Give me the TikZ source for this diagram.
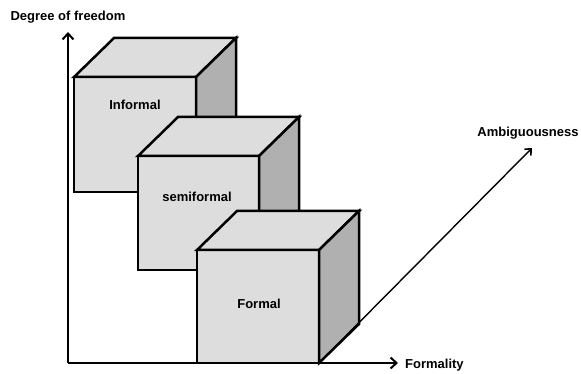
\documentclass[tikz,border=0pt]{standalone}
\usepackage{fontspec}
\setmainfont{Liberation Sans}
\usetikzlibrary{arrows.meta}
\definecolor{facelight}{HTML}{DDDDDD}
\definecolor{faceside}{HTML}{B0B0B0}
\tikzset{
  frontface/.style={draw=black, fill=facelight, line width=2.5pt, outer sep=0pt, inner sep=0pt},
  topface/.style={draw=black, fill=facelight, line width=2.5pt},
  sideface/.style={draw=black, fill=faceside, line width=2.5pt},
  lbl/.style={font=\fontsize{13}{15}\selectfont\bfseries, inner sep=0pt},
  axis/.style={line width=2.2pt, -{Straight Barb[length=6pt,width=11pt,line width=2pt]}},
  thinaxis/.style={line width=1.4pt, -{Straight Barb[length=5pt,width=9pt,line width=1.6pt]}}
}
\newcommand{\cubefaces}[1]{%
  \draw[topface] (#1.north west) -- ++(40,-39) -- ([shift={(40,-39)}]#1.north east) -- (#1.north east) -- cycle;
  \draw[sideface] (#1.north east) -- ++(40,-39) -- ([shift={(40,-39)}]#1.south east) -- (#1.south east) -- cycle;
}
\begin{document}
\begin{tikzpicture}[x=1pt,y=-1pt]
\useasboundingbox (0,0) rectangle (581,374);
% cube 1
\node[frontface, minimum width=122pt, minimum height=115pt] (c1) at (135,134.5) {};
\cubefaces{c1}
\node[lbl] (t1) at (135,105) {Informal};
% cube 2
\node[frontface, minimum width=121pt, minimum height=114pt] (c2) at (198.5,213) {};
\cubefaces{c2}
\node[lbl] (t2) at (197,197) {semiformal};
% cube 3
\node[frontface, minimum width=122pt, minimum height=113pt] (c3) at (258,306.5) {};
\cubefaces{c3}
\node[lbl] (t3) at (259,304) {Formal};
% axes
\coordinate (O) at (68,363);
\coordinate (ytip) at (68,32);
\coordinate (xtip) at (398,363);
\coordinate (ztip) at (532,148);
\draw[axis] (O) -- (ytip);
\draw[axis] (O) -- (xtip);
\draw[thinaxis] (c3.south east) -- (ztip);
\node[lbl] (ylab) at (68,17) {Degree of freedom};
\node[lbl, anchor=west] (xlab) at (405,365) {Formality};
\node[lbl] (zlab) at (528,133) {Ambiguousness};
\end{tikzpicture}
\end{document}
